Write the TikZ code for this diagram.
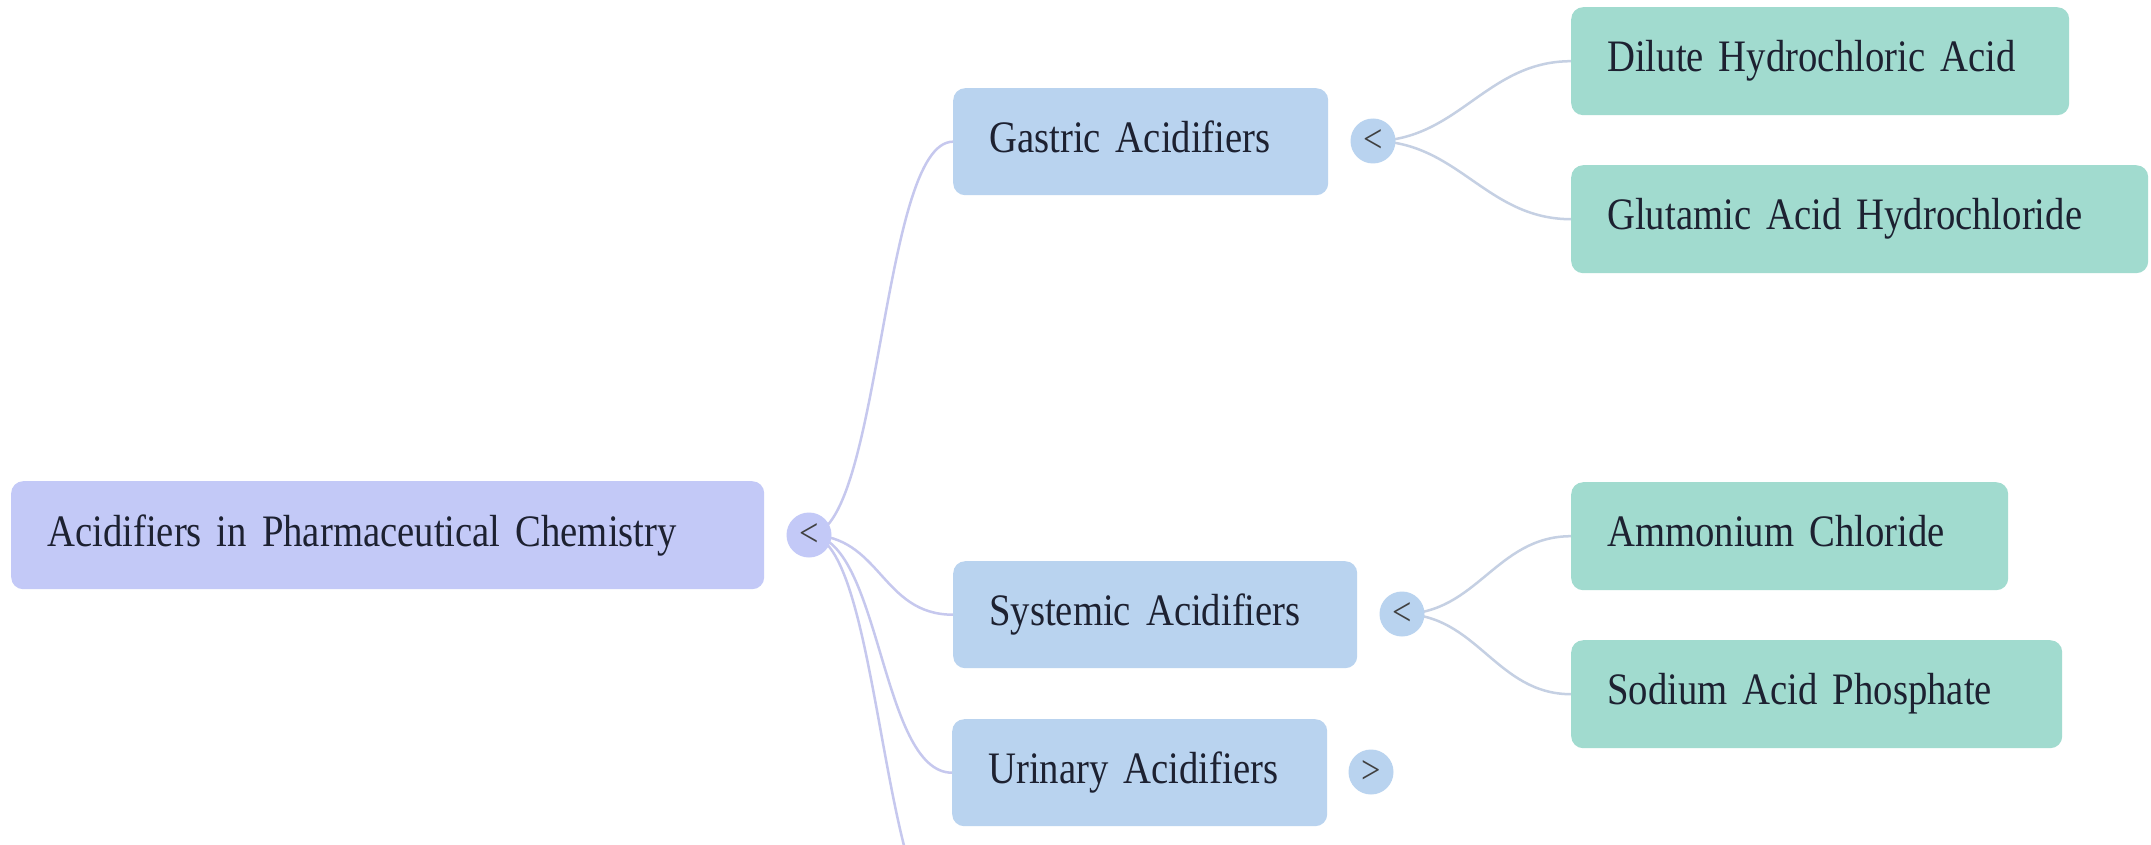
\documentclass[tikz,border=0pt]{standalone}
\usepackage{fontspec}
\setmainfont{Liberation Serif}
\newfontfamily\boxfont[FakeStretch=0.86,WordSpace=0.7]{Liberation Serif}
\definecolor{rootc}{HTML}{C3C9F7}
\definecolor{lvlone}{HTML}{B9D3EF}
\definecolor{lvltwo}{HTML}{A1DBCF}
\definecolor{linea}{HTML}{C6C8EE}
\definecolor{lineb}{HTML}{C5D0E3}
\definecolor{txt}{HTML}{1D2131}
\pgfdeclarelayer{background}
\pgfsetlayers{background,main}
\newcommand{\bx}[1]{\vphantom{Ay}#1}
\tikzset{
  box/.style={rounded corners=12pt, anchor=north west, inner xsep=36pt, inner ysep=0pt,
    align=left, font=\boxfont\fontsize{45}{54}\selectfont, text=txt, minimum height=107pt},
  tog/.style={circle, minimum size=45pt, inner sep=0pt, font=\boxfont\fontsize{40}{40}\selectfont, text=black!75},
  conna/.style={draw=linea, line width=2.5pt},
  connb/.style={draw=lineb, line width=2.5pt}
}
\begin{document}
\begin{tikzpicture}[x=1pt,y=-1pt]
\clip (0,0) rectangle (2151,845);
% root
\node[box, fill=rootc, text width=681pt, minimum height=108pt] (root) at (11,481) {\bx{Acidifiers in Pharmaceutical Chemistry}};
\node[tog, fill=rootc] (rt) at (809,535) {<};
% level 1
\node[box, fill=lvlone, text width=303pt] (gastric) at (953,88) {\bx{Gastric Acidifiers}};
\node[tog, fill=lvlone] (gt) at (1373,141) {<};
\node[box, fill=lvlone, text width=332pt] (systemic) at (953,561) {\bx{Systemic Acidifiers}};
\node[tog, fill=lvlone] (st) at (1402,614) {<};
\node[box, fill=lvlone, text width=303pt] (urinary) at (952,719) {\bx{Urinary Acidifiers}};
\node[tog, fill=lvlone] (ut) at (1371,772) {>};
\coordinate (hidden) at (953,930);
% level 2
\node[box, fill=lvltwo, text width=426pt, minimum height=108pt] (dilute) at (1571,7) {\bx{Dilute Hydrochloric Acid}};
\node[box, fill=lvltwo, text width=505pt, minimum height=108pt] (glutamic) at (1571,165) {\bx{Glutamic Acid Hydrochloride}};
\node[box, fill=lvltwo, text width=365pt, minimum height=108pt] (ammonium) at (1571,482) {\bx{Ammonium Chloride}};
\node[box, fill=lvltwo, text width=419pt, minimum height=108pt] (sodium) at (1571,640) {\bx{Sodium Acid Phosphate}};
% connectors (behind the nodes, starting from the toggle centres)
\begin{pgfonlayer}{background}
\fill[white] (0,0) rectangle (2151,845);
\draw[conna] (rt.center) .. controls +(72,0) and +(-72,0) .. (gastric.west);
\draw[conna] (rt.center) .. controls +(72,0) and +(-72,0) .. (systemic.west);
\draw[conna] (rt.center) .. controls +(72,0) and +(-72,0) .. (urinary.west);
\draw[conna] (rt.center) .. controls +(72,0) and +(-72,0) .. (hidden);
\draw[connb] (gt.center) .. controls +(85,0) and +(-85,0) .. (dilute.west);
\draw[connb] (gt.center) .. controls +(85,0) and +(-85,0) .. (glutamic.west);
\draw[connb] (st.center) .. controls +(75,0) and +(-75,0) .. (ammonium.west);
\draw[connb] (st.center) .. controls +(75,0) and +(-75,0) .. (sodium.west);
\end{pgfonlayer}
\end{tikzpicture}
\end{document}
